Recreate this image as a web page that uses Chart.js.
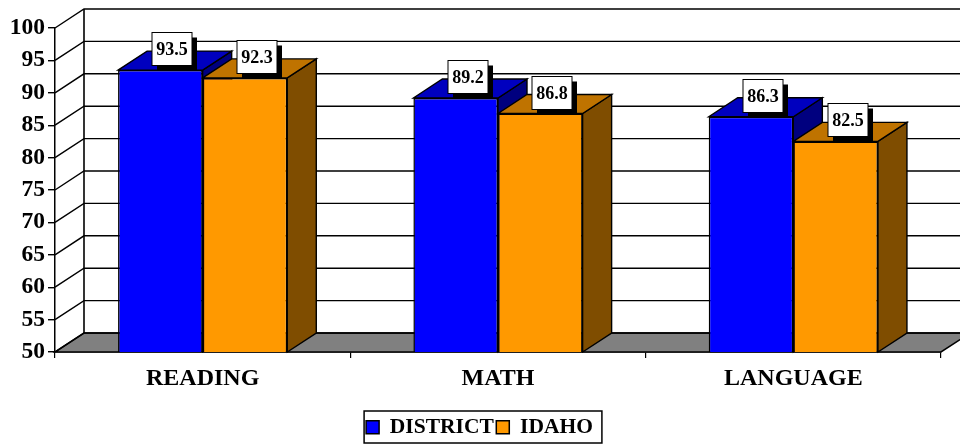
<!DOCTYPE html>
<html><head><meta charset="utf-8">
<style>html,body{margin:0;padding:0;background:#fff}canvas{display:block}</style>
<script src="https://cdn.jsdelivr.net/npm/chart.js@4"></script>
</head><body><canvas id="c" width="960" height="445"></canvas>
<script>
const categories = ["READING", "MATH", "LANGUAGE"];
const seriesNames = ["DISTRICT", "IDAHO"];
const district = [93.5, 89.2, 86.3];
const idaho = [92.3, 86.8, 82.5];
const frontColors = ["#0000FF", "#FF9900"];
const topColors = ["#0000BF", "#BF7300"];
const sideColors = ["#00007F", "#7F4D00"];
const DX = 29, DY = -19;
const FONT = '"Liberation Serif", "Times New Roman", serif';
const LEGEND_SHIFT = 9, LEGEND_DROP = 4;

function poly(ctx, pts, fill, lw) {
  ctx.beginPath();
  pts.forEach((p, i) => i ? ctx.lineTo(p[0], p[1]) : ctx.moveTo(p[0], p[1]));
  ctx.closePath();
  if (fill) { ctx.fillStyle = fill; ctx.fill(); }
  ctx.lineWidth = lw; ctx.strokeStyle = "#000"; ctx.stroke();
}

const plot3d = {
  id: "plot3d",
  afterLayout(chart) {
    const lg = chart.legend;
    lg.left += LEGEND_SHIFT; lg.right += LEGEND_SHIFT;
    lg.top += LEGEND_DROP; lg.bottom += LEGEND_DROP;
  },
  beforeDatasetsDraw(chart) {
    const ctx = chart.ctx, a = chart.chartArea, ys = chart.scales.y;
    ctx.save();
    poly(ctx, [[a.left, a.bottom], [a.left + DX, a.bottom + DY], [a.right + DX, a.bottom + DY], [a.right, a.bottom]], "#808080", 1.5);
    ctx.strokeStyle = "#000"; ctx.lineWidth = 1.4;
    ys.ticks.forEach(t => {
      const y = ys.getPixelForValue(t.value);
      ctx.beginPath();
      ctx.moveTo(a.left, y); ctx.lineTo(a.left + DX, y + DY); ctx.lineTo(a.right + DX, y + DY);
      ctx.stroke();
    });
    ctx.lineWidth = 1.6;
    ctx.beginPath();
    ctx.moveTo(a.left + DX, a.bottom + DY); ctx.lineTo(a.left + DX, a.top + DY);
    ctx.stroke();
    categories.forEach((_, i) => {
      chart.data.datasets.forEach((d, di) => {
        const b = chart.getDatasetMeta(di).data[i];
        const l = b.x - b.width / 2, r = b.x + b.width / 2, t = b.y, bt = a.bottom;
        poly(ctx, [[r, t], [r + DX, t + DY], [r + DX, bt + DY], [r, bt]], sideColors[di], 1.4);
        poly(ctx, [[l, t], [l + DX, t + DY], [r + DX, t + DY], [r, t]], topColors[di], 1.4);
      });
    });
    ctx.restore();
  },
  afterDatasetsDraw(chart) {
    const ctx = chart.ctx;
    ctx.save();
    ctx.font = "bold 18px " + FONT;
    ctx.textAlign = "center"; ctx.textBaseline = "middle";
    categories.forEach((_, i) => {
      chart.data.datasets.forEach((d, di) => {
        const b = chart.getDatasetMeta(di).data[i];
        const cx = Math.round(b.x + 12), cy = Math.round(b.y - 21), w = 40, h = 33;
        ctx.fillStyle = "#000";
        ctx.fillRect(cx - w / 2 + 5, cy - h / 2 + 5, w, h);
        ctx.fillStyle = "#fff";
        ctx.fillRect(cx - w / 2, cy - h / 2, w, h);
        ctx.strokeStyle = "#000"; ctx.lineWidth = 1;
        ctx.strokeRect(cx - w / 2, cy - h / 2, w, h);
        ctx.fillStyle = "#000";
        ctx.fillText(d.data[i].toFixed(1), cx, cy + 1);
      });
    });
    ctx.restore();
  },
  afterDraw(chart) {
    const ctx = chart.ctx, lg = chart.legend, hb = lg.legendHitBoxes;
    const last = hb[hb.length - 1];
    const x0 = hb[0].left + LEGEND_SHIFT - 11, x1 = last.left + last.width + LEGEND_SHIFT;
    ctx.save();
    ctx.strokeStyle = "#000"; ctx.lineWidth = 1.5;
    ctx.strokeRect(x0, lg.top - 3, x1 - x0, 32);
    ctx.restore();
  }
};

new Chart(document.getElementById("c"), {
  type: "bar",
  data: {
    labels: categories,
    datasets: [
      { label: seriesNames[0], data: district, backgroundColor: frontColors[0], borderColor: "#000", borderWidth: 1.5 },
      { label: seriesNames[1], data: idaho, backgroundColor: frontColors[1], borderColor: "#000", borderWidth: 1.5 }
    ]
  },
  options: {
    responsive: false, animation: false,
    devicePixelRatio: 1,
    layout: { padding: { left: 0, right: 19, top: 28, bottom: 1 } },
    datasets: { bar: { categoryPercentage: 0.573, barPercentage: 1 } },
    scales: {
      x: {
        grid: { drawOnChartArea: false, drawTicks: true, tickLength: 6, color: "#000", lineWidth: 1.2 },
        border: { color: "#000", width: 1.5 },
        ticks: { color: "#000", font: { family: FONT, size: 24, weight: "bold" }, padding: 6, maxRotation: 0 },
        afterFit(s) { s.height = 58; }
      },
      y: {
        min: 50, max: 100,
        grid: { drawOnChartArea: false, drawTicks: true, tickLength: 7, color: "#000", lineWidth: 1.4 },
        border: { color: "#000", width: 1.5 },
        ticks: { stepSize: 5, color: "#000", font: { family: FONT, size: 23.5, weight: "bold" }, padding: 3 },
        afterFit(s) { s.width = 55; }
      }
    },
    plugins: {
      tooltip: { enabled: false },
      legend: {
        position: "bottom",
        labels: {
          color: "#000", boxWidth: 13, boxHeight: 13, padding: 2.5,
          font: { family: FONT, size: 21.5, weight: "bold" }
        }
      }
    }
  },
  plugins: [plot3d]
});
</script></body></html>
